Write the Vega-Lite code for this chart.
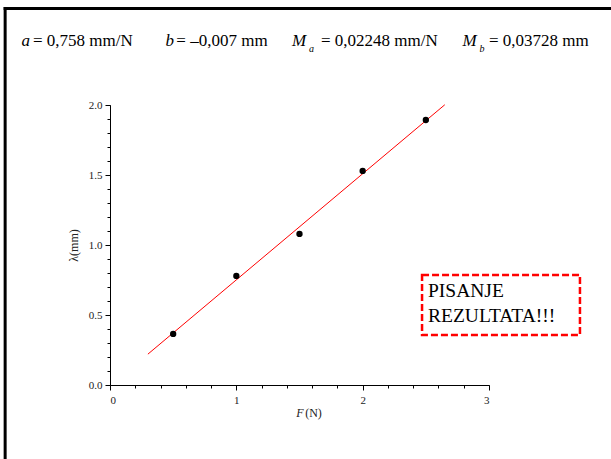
{
  "$schema": "https://vega.github.io/schema/vega-lite/v6.json",
  "width": 379,
  "height": 280,
  "autosize": "none",
  "padding": {"left": 110, "top": 105, "right": 122, "bottom": 74},
  "background": "white",
  "config": {
    "view": {"stroke": null},
    "font": "Liberation Serif",
    "axis": {
      "domainColor": "black",
      "tickColor": "black",
      "labelColor": "#222",
      "labelFont": "Liberation Serif",
      "labelFontSize": 11,
      "titleFont": "Liberation Serif",
      "titleFontWeight": "normal",
      "titleFontSize": 12,
      "titleColor": "#222",
      "grid": false,
      "domainWidth": 1,
      "tickWidth": 1
    }
  },
  "datasets": {
    "points": [
      {"F": 0.5, "lambda": 0.365},
      {"F": 1.0, "lambda": 0.779},
      {"F": 1.5, "lambda": 1.079},
      {"F": 2.0, "lambda": 1.529},
      {"F": 2.5, "lambda": 1.893}
    ],
    "fit": [
      {"F": 0.3, "lambda": 0.2204},
      {"F": 2.65, "lambda": 2.0017}
    ],
    "header": [
      {"t": "a", "k": "it", "x": -0.70, "y": 2.46},
      {"t": "= 0,758 mm/N", "k": "up", "x": -0.61, "y": 2.46},
      {"t": "b", "k": "it", "x": 0.44, "y": 2.46},
      {"t": "= –0,007 mm", "k": "up", "x": 0.525, "y": 2.46},
      {"t": "M", "k": "it", "x": 1.44, "y": 2.46},
      {"t": "a", "k": "sub", "x": 1.575, "y": 2.40},
      {"t": "= 0,02248 mm/N", "k": "up", "x": 1.67, "y": 2.46},
      {"t": "M", "k": "it", "x": 2.79, "y": 2.46},
      {"t": "b", "k": "sub", "x": 2.925, "y": 2.40},
      {"t": "= 0,03728 mm", "k": "up", "x": 3.0, "y": 2.46},
      {"t": "F", "k": "xit", "x": 1.475, "y": -0.2},
      {"t": "(N)", "k": "xup", "x": 1.545, "y": -0.2}
    ],
    "box": [{"x1": 2.47, "x2": 3.72, "y1": 0.357, "y2": 0.786}],
    "boxtext": [
      {"label": "PISANJE", "x": 2.517, "y": 0.671},
      {"label": "REZULTATA!!!", "x": 2.517, "y": 0.493}
    ],
    "frame": [
      {"x1": -0.83, "x2": -0.83, "y1": -0.6, "y2": 2.69},
      {"x1": -0.83, "x2": 4.0, "y1": 2.69, "y2": 2.69}
    ]
  },
  "layer": [
    {
      "data": {"name": "frame"},
      "mark": {"type": "rule", "color": "black", "strokeWidth": 3, "strokeCap": "square"},
      "encoding": {
        "x": {"field": "x1", "type": "quantitative", "scale": {"domain": [0, 3], "nice": false}, "axis": null},
        "x2": {"field": "x2"},
        "y": {"field": "y1", "type": "quantitative", "scale": {"domain": [0, 2], "nice": false}, "axis": null},
        "y2": {"field": "y2"}
      }
    },
    {
      "data": {"name": "fit"},
      "mark": {"type": "line", "color": "#ff0000", "strokeWidth": 1},
      "encoding": {
        "x": {"field": "F", "type": "quantitative", "scale": {"domain": [0, 3], "nice": false},
          "axis": {"orient": "bottom", "values": [0, 0.2, 0.4, 0.6, 0.8, 1, 1.2, 1.4, 1.6, 1.8, 2, 2.2, 2.4, 2.6, 2.8, 3], "labels": false, "domain": false, "tickSize": 3, "title": null}},
        "y": {"field": "lambda", "type": "quantitative", "scale": {"domain": [0, 2], "nice": false},
          "axis": {"orient": "left", "values": [0, 0.1, 0.2, 0.3, 0.4, 0.5, 0.6, 0.7, 0.8, 0.9, 1, 1.1, 1.2, 1.3, 1.4, 1.5, 1.6, 1.7, 1.8, 1.9, 2], "labels": false, "domain": false, "tickSize": 3, "title": null}}
      }
    },
    {
      "data": {"name": "points"},
      "mark": {"type": "point", "filled": true, "color": "black", "size": 40, "opacity": 1},
      "encoding": {
        "x": {"field": "F", "type": "quantitative", "scale": {"domain": [0, 3], "nice": false},
          "axis": {"orient": "bottom", "values": [0, 1, 2, 3], "format": "d", "tickSize": 5, "labelPadding": 4, "title": null}},
        "y": {"field": "lambda", "type": "quantitative", "scale": {"domain": [0, 2], "nice": false},
          "axis": {"orient": "left", "values": [0, 0.5, 1, 1.5, 2], "format": ".1f", "tickSize": 5, "labelPadding": 3, "title": "λ(mm)", "titlePadding": 8}}
      }
    },
    {
      "data": {"name": "box"},
      "mark": {"type": "rect", "fill": "white", "stroke": "#ff0000", "strokeWidth": 2.5, "strokeDash": [7, 3]},
      "encoding": {
        "x": {"field": "x1", "type": "quantitative", "scale": {"domain": [0, 3], "nice": false}, "axis": null},
        "x2": {"field": "x2"},
        "y": {"field": "y1", "type": "quantitative", "scale": {"domain": [0, 2], "nice": false}, "axis": null},
        "y2": {"field": "y2"}
      }
    },
    {
      "data": {"name": "boxtext"},
      "mark": {"type": "text", "align": "left", "baseline": "middle", "font": "Liberation Serif", "fontSize": 19.5, "color": "black"},
      "encoding": {
        "x": {"field": "x", "type": "quantitative", "scale": {"domain": [0, 3], "nice": false}, "axis": null},
        "y": {"field": "y", "type": "quantitative", "scale": {"domain": [0, 2], "nice": false}, "axis": null},
        "text": {"field": "label"}
      }
    },
    {
      "data": {"name": "header"},
      "transform": [{"filter": "datum.k == 'it'"}],
      "mark": {"type": "text", "align": "left", "baseline": "middle", "font": "Liberation Serif", "fontStyle": "italic", "fontSize": 17, "color": "black"},
      "encoding": {
        "x": {"field": "x", "type": "quantitative", "scale": {"domain": [0, 3], "nice": false}, "axis": null},
        "y": {"field": "y", "type": "quantitative", "scale": {"domain": [0, 2], "nice": false}, "axis": null},
        "text": {"field": "t"}
      }
    },
    {
      "data": {"name": "header"},
      "transform": [{"filter": "datum.k == 'sub'"}],
      "mark": {"type": "text", "align": "left", "baseline": "middle", "font": "Liberation Serif", "fontStyle": "italic", "fontSize": 10, "color": "black"},
      "encoding": {
        "x": {"field": "x", "type": "quantitative", "scale": {"domain": [0, 3], "nice": false}, "axis": null},
        "y": {"field": "y", "type": "quantitative", "scale": {"domain": [0, 2], "nice": false}, "axis": null},
        "text": {"field": "t"}
      }
    },
    {
      "data": {"name": "header"},
      "transform": [{"filter": "datum.k == 'up'"}],
      "mark": {"type": "text", "align": "left", "baseline": "middle", "font": "Liberation Serif", "fontSize": 17, "color": "black"},
      "encoding": {
        "x": {"field": "x", "type": "quantitative", "scale": {"domain": [0, 3], "nice": false}, "axis": null},
        "y": {"field": "y", "type": "quantitative", "scale": {"domain": [0, 2], "nice": false}, "axis": null},
        "text": {"field": "t"}
      }
    },
    {
      "data": {"name": "header"},
      "transform": [{"filter": "datum.k == 'xit'"}],
      "mark": {"type": "text", "align": "left", "baseline": "middle", "font": "Liberation Serif", "fontStyle": "italic", "fontSize": 12, "color": "#222"},
      "encoding": {
        "x": {"field": "x", "type": "quantitative", "scale": {"domain": [0, 3], "nice": false}, "axis": null},
        "y": {"field": "y", "type": "quantitative", "scale": {"domain": [0, 2], "nice": false}, "axis": null},
        "text": {"field": "t"}
      }
    },
    {
      "data": {"name": "header"},
      "transform": [{"filter": "datum.k == 'xup'"}],
      "mark": {"type": "text", "align": "left", "baseline": "middle", "font": "Liberation Serif", "fontSize": 12, "color": "#222"},
      "encoding": {
        "x": {"field": "x", "type": "quantitative", "scale": {"domain": [0, 3], "nice": false}, "axis": null},
        "y": {"field": "y", "type": "quantitative", "scale": {"domain": [0, 2], "nice": false}, "axis": null},
        "text": {"field": "t"}
      }
    }
  ],
  "resolve": {"axis": {"x": "independent", "y": "independent"}}
}
